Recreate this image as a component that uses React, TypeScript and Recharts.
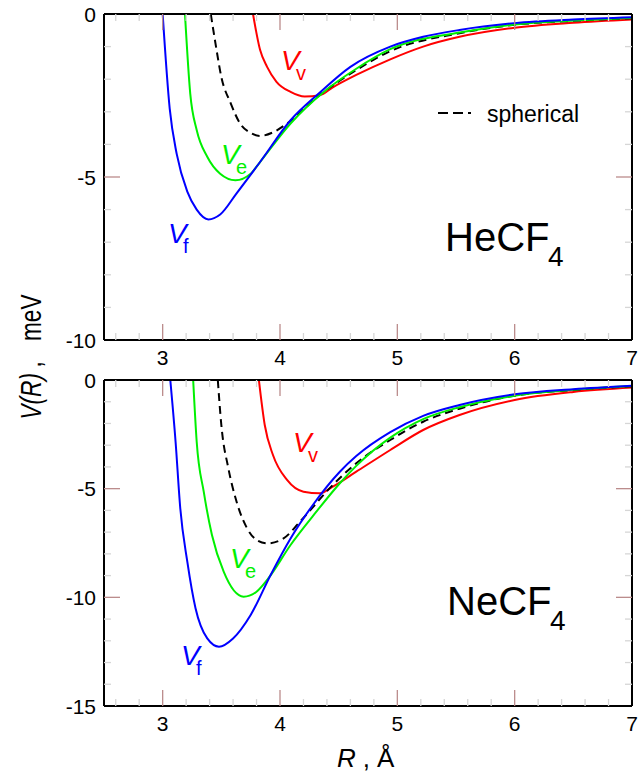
import { LineChart, Line, XAxis, YAxis } from 'recharts'

// x ticks every 0.2 Å, labels at integers
const xTicks = [2.6, 2.8, 3, 3.2, 3.4, 3.6, 3.8, 4, 4.2, 4.4, 4.6, 4.8, 5, 5.2, 5.4, 5.6, 5.8, 6, 6.2, 6.4, 6.6, 6.8, 7]
const yTicksHe = [-10, -9, -8, -7, -6, -5, -4, -3, -2, -1, 0]
const yTicksNe = [-15, -14, -13, -12, -11, -10, -9, -8, -7, -6, -5, -4, -3, -2, -1, 0]

// HeCF4 curves (R in Å, V in meV)
const heR_f = [3.0, 3.06, 3.12, 3.21, 3.29, 3.39, 3.49, 3.63, 3.83, 4.09, 4.33, 4.6, 4.94, 5.22, 5.53, 6.0, 6.5, 7.0]
const heV_f = [0, -2.9, -4.3, -5.45, -6.0, -6.3, -6.15, -5.5, -4.54, -3.26, -2.44, -1.62, -1.0, -0.7, -0.49, -0.28, -0.17, -0.1]
const heR_e = [3.19, 3.235, 3.29, 3.38, 3.49, 3.62, 3.75, 3.83, 4.09, 4.37, 4.65, 4.94, 5.53, 6.0, 6.5, 7.0]
const heV_e = [0, -2.44, -3.56, -4.38, -4.9, -5.1, -4.9, -4.54, -3.36, -2.4, -1.68, -1.08, -0.57, -0.32, -0.2, -0.12]
const heR_s = [3.41, 3.45, 3.5, 3.58, 3.66, 3.75, 3.83, 3.94, 4.06, 4.34, 4.65, 4.94, 5.53, 6.0, 6.5, 7.0]
const heV_s = [0, -0.9, -1.93, -2.74, -3.36, -3.65, -3.74, -3.63, -3.36, -2.48, -1.72, -1.14, -0.59, -0.33, -0.21, -0.13]
const heR_v = [3.77, 3.83, 3.89, 3.97, 4.09, 4.21, 4.34, 4.45, 4.65, 4.94, 5.22, 5.53, 6.0, 6.5, 7.0]
const heV_v = [0, -1.1, -1.62, -2.08, -2.39, -2.53, -2.49, -2.25, -1.87, -1.39, -1.0, -0.7, -0.42, -0.27, -0.17]

// NeCF4 curves
const neR_f = [3.065, 3.11, 3.15, 3.21, 3.28, 3.38, 3.48, 3.6, 3.75, 3.92, 4.09, 4.28, 4.51, 4.65, 4.94, 5.22, 5.53, 6.0, 6.5, 7.0]
const neV_f = [0, -2.84, -5.9, -8.36, -10.5, -11.89, -12.27, -11.89, -10.81, -8.97, -7.29, -5.75, -4.22, -3.5, -2.4, -1.65, -1.15, -0.66, -0.42, -0.26]
const neR_e = [3.26, 3.29, 3.35, 3.42, 3.52, 3.69, 3.8, 3.9, 4.09, 4.31, 4.51, 4.65, 4.94, 5.22, 5.53, 6.0, 6.5, 7.0]
const neV_e = [0, -2.84, -5.14, -7.13, -8.82, -9.97, -9.74, -9.13, -7.59, -6.06, -4.75, -3.95, -2.65, -1.8, -1.25, -0.72, -0.45, -0.28]
const neR_s = [3.47, 3.5, 3.56, 3.63, 3.72, 3.8, 3.89, 4.03, 4.17, 4.45, 4.65, 4.94, 5.22, 5.53, 6.0, 6.5, 7.0]
const neV_s = [0, -2.07, -4.06, -5.6, -6.83, -7.36, -7.52, -7.29, -6.52, -4.83, -3.83, -2.76, -1.92, -1.32, -0.72, -0.46, -0.29]
const neR_v = [3.82, 3.87, 3.94, 4.06, 4.2, 4.34, 4.45, 4.65, 4.94, 5.22, 5.53, 6.0, 6.5, 7.0]
const neV_v = [0, -2.07, -3.45, -4.6, -5.14, -5.21, -4.91, -4.22, -3.22, -2.3, -1.61, -0.92, -0.55, -0.35]

const zip = (rs: number[], vs: number[]) => rs.map((r, i) => ({ r, v: vs[i] }))

const FONT = '"Liberation Sans", Arial, sans-serif'
const MAJOR = '#bb8c8c'
const MINOR = '#d6d6d6'
const RED = '#ff0000'
const GREEN = '#00f000'
const BLUE = '#0000ff'

const isMajorX = (v: number) => Math.abs(v - Math.round(v)) < 1e-6
const isMajorY = (v: number) => v % 5 === 0

function BottomTick({ x, y, payload }: any) {
  const v = payload.value
  const major = isMajorX(v)
  return (
    <g>
      {v < 7 && (
        <line x1={x} x2={x} y1={y} y2={y - (major ? 16 : 7)} stroke={major ? MAJOR : MINOR} strokeWidth={1.3} />
      )}
      {major && (
        <text x={x} y={y + 25} textAnchor="middle" fontSize={21} fontFamily={FONT} fill="#000">{v}</text>
      )}
    </g>
  )
}

function TopTick({ x, y, payload }: any) {
  const v = payload.value
  if (v >= 7) return <g />
  const major = isMajorX(v)
  return <line x1={x} x2={x} y1={y} y2={y + (major ? 16 : 7)} stroke={major ? MAJOR : MINOR} strokeWidth={1.3} />
}

function LeftTick({ x, y, payload, yMin }: any) {
  const v = payload.value
  const major = isMajorY(v)
  return (
    <g>
      {v > yMin && v < 0 && (
        <line x1={x} x2={x + (major ? 16 : 7)} y1={y} y2={y} stroke={major ? MAJOR : MINOR} strokeWidth={1.3} />
      )}
      {major && (
        <text x={x - 8} y={y + 7.5} textAnchor="end" fontSize={21} fontFamily={FONT} fill="#000">{v}</text>
      )}
    </g>
  )
}

function RightTick({ x, y, payload, yMin }: any) {
  const v = payload.value
  if (v <= yMin || v >= 0) return <g />
  const major = isMajorY(v)
  return <line x1={x} x2={x - (major ? 16 : 7)} y1={y} y2={y} stroke={major ? MAJOR : MINOR} strokeWidth={1.3} />
}

const frame = { stroke: '#000', strokeWidth: 2 }

// axis boxes: bottom 20, top 10, left 40, right 8 (margins below are reduced by these)
function Panel({ height, margin, yMin, yTicks, f, e, s, v }: any) {
  return (
    <LineChart width={640} height={height} margin={margin}>
      <XAxis
        xAxisId="b" dataKey="r" type="number" domain={[2.5, 7]} allowDataOverflow
        ticks={xTicks} interval={0} height={20} tickSize={0} tickMargin={0}
        axisLine={frame} tick={(p: any) => <BottomTick {...p} />}
      />
      <XAxis
        xAxisId="t" orientation="top" dataKey="r" type="number" domain={[2.5, 7]} allowDataOverflow
        ticks={xTicks} interval={0} height={10} tickSize={0} tickMargin={0}
        axisLine={frame} tick={(p: any) => <TopTick {...p} />}
      />
      <YAxis
        yAxisId="l" type="number" domain={[yMin, 0]} allowDataOverflow
        ticks={yTicks} interval={0} width={40} tickSize={0} tickMargin={0}
        axisLine={frame} tick={(p: any) => <LeftTick {...p} yMin={yMin} />}
      />
      <YAxis
        yAxisId="r" orientation="right" type="number" domain={[yMin, 0]} allowDataOverflow
        ticks={yTicks} interval={0} width={8} tickSize={0} tickMargin={0}
        axisLine={frame} tick={(p: any) => <RightTick {...p} yMin={yMin} />}
      />
      <Line xAxisId="b" yAxisId="l" data={v} dataKey="v" type="monotone" stroke={RED} strokeWidth={2} dot={false} isAnimationActive={false} />
      <Line xAxisId="b" yAxisId="l" data={s} dataKey="v" type="monotone" stroke="#000" strokeWidth={2} strokeDasharray="8 5" dot={false} isAnimationActive={false} />
      <Line xAxisId="b" yAxisId="l" data={e} dataKey="v" type="monotone" stroke={GREEN} strokeWidth={2} dot={false} isAnimationActive={false} />
      <Line xAxisId="b" yAxisId="l" data={f} dataKey="v" type="monotone" stroke={BLUE} strokeWidth={2} dot={false} isAnimationActive={false} />
    </LineChart>
  )
}

function VLabel({ x, y, sub, color }: any) {
  return (
    <g fill={color} fontFamily={FONT}>
      <text x={x} y={y} fontSize={28} fontStyle="italic">V</text>
      <text x={x + 15} y={y + 10} fontSize={20}>{sub}</text>
    </g>
  )
}

export default function App() {
  return (
    <div style={{ position: 'absolute', left: 0, top: 0, width: 640, height: 778, background: '#fff' }}>
      <div style={{ position: 'absolute', left: 0, top: 0 }}>
        <Panel
          height={380} margin={{ top: 4, right: 0, bottom: 20, left: 64 }} yMin={-10} yTicks={yTicksHe}
          f={zip(heR_f, heV_f)} e={zip(heR_e, heV_e)} s={zip(heR_s, heV_s)} v={zip(heR_v, heV_v)}
        />
      </div>
      <div style={{ position: 'absolute', left: 0, top: 360 }}>
        <Panel
          height={418} margin={{ top: 10, right: 0, bottom: 52, left: 64 }} yMin={-15} yTicks={yTicksNe}
          f={zip(neR_f, neV_f)} e={zip(neR_e, neV_e)} s={zip(neR_s, neV_s)} v={zip(neR_v, neV_v)}
        />
      </div>
      <svg width={640} height={778} style={{ position: 'absolute', left: 0, top: 0, pointerEvents: 'none' }}>
        {/* top panel labels */}
        <VLabel x={281} y={70} sub="v" color={RED} />
        <VLabel x={221} y={164} sub="e" color={GREEN} />
        <VLabel x={168} y={243} sub="f" color={BLUE} />
        <line x1={438} x2={471} y1={113} y2={113} stroke="#000" strokeWidth={2} strokeDasharray="10 5" />
        <text x={487} y={122} fontSize={23} fontFamily={FONT} fill="#000">spherical</text>
        <text x={445} y={251} fontSize={40} fontFamily={FONT} fill="#000">HeCF</text>
        <text x={548} y={266} fontSize={28} fontFamily={FONT} fill="#000">4</text>

        {/* bottom panel labels */}
        <VLabel x={293} y={452} sub="v" color={RED} />
        <VLabel x={230} y={568} sub="e" color={GREEN} />
        <VLabel x={181} y={665} sub="f" color={BLUE} />
        <text x={447} y={615} fontSize={40} fontFamily={FONT} fill="#000">NeCF</text>
        <text x={550} y={630} fontSize={28} fontFamily={FONT} fill="#000">4</text>

        {/* axis titles */}
        <g transform="translate(41 357) rotate(-90) scale(0.78 1)">
          <text x={0} y={0} textAnchor="middle" fontSize={29} fontFamily={FONT} fill="#000">
            <tspan fontStyle="italic">V(R)</tspan>
            <tspan dx={7}>,</tspan>
            <tspan dx={26}>meV</tspan>
          </text>
        </g>
        <text x={337} y={767} fontSize={26} fontFamily={FONT} fill="#000">
          <tspan fontStyle="italic">R</tspan>
          <tspan dx={7}>,</tspan>
          <tspan dx={7}>Å</tspan>
        </text>
      </svg>
    </div>
  )
}
